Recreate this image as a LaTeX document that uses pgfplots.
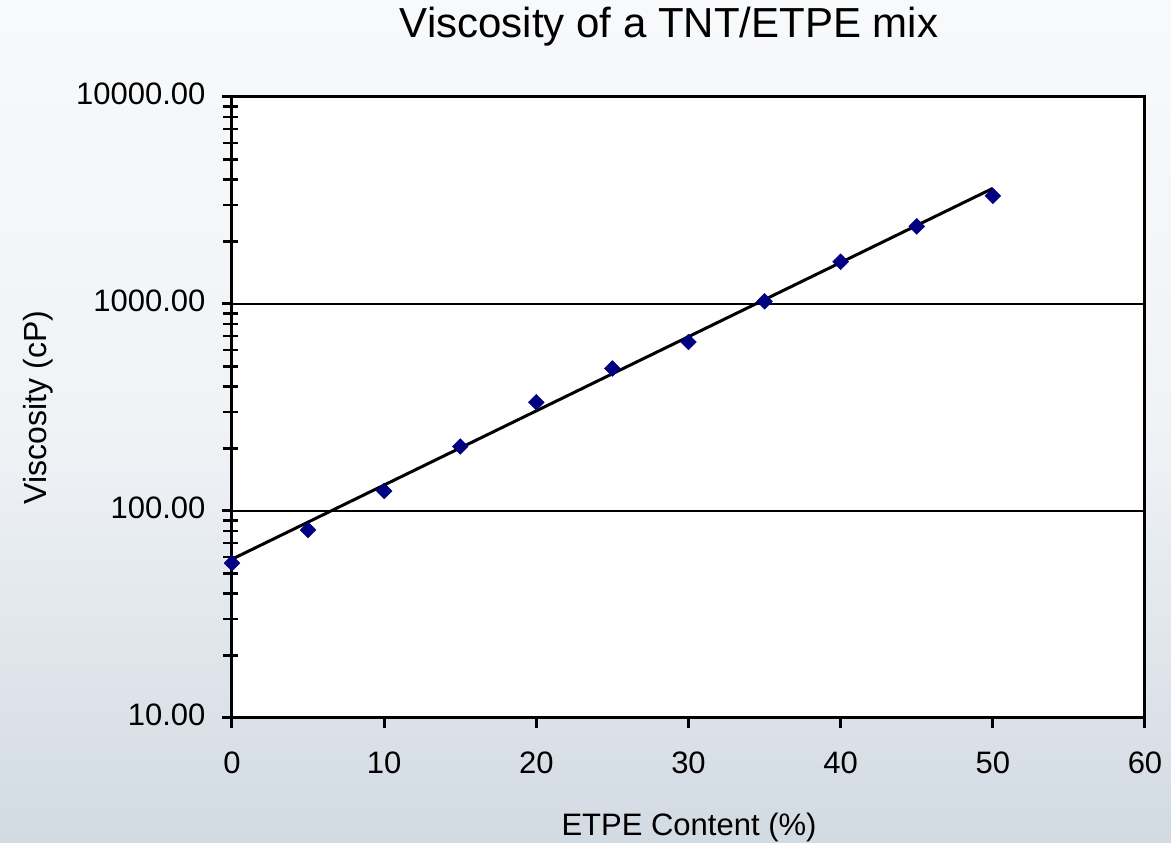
\documentclass[border=0pt]{standalone}
\usepackage{pgfplots}
\pgfplotsset{compat=1.18}
\usepackage{fontspec}
\setmainfont{Liberation Sans}
\definecolor{bgtop}{HTML}{F8F9FB}
\definecolor{bgmid}{HTML}{F0F3F6}
\definecolor{bgbot}{HTML}{D2DAE2}
\definecolor{navy}{HTML}{000080}
\begin{document}
\begin{tikzpicture}[x=1pt,y=1pt]
\useasboundingbox (0,0) rectangle (1171,843);
\shade[top color=bgtop, bottom color=bgbot, middle color=bgmid] (0,0) rectangle (1171,843);
\begin{axis}[
  at={(232pt,125pt)}, anchor=south west,
  scale only axis, width=913pt, height=621pt,
  xmin=0, xmax=60, ymode=log, ymin=10, ymax=10000,
  axis background/.style={fill=white},
  axis line style={line width=3pt},
  xtick={0,10,20,30,40,50,60},
  xticklabels={0,10,20,30,40,50,60},
  ytick={10,100,1000,10000},
  yticklabels={10.00,100.00,1000.00,10000.00},
  tick align=outside,
  tick pos=left,
  major tick length=10pt,
  minor tick length=15pt,
  tick style={black, line width=3pt},
  minor tick style={xshift=6pt, line width=2.5pt},
  ymajorgrids,
  major grid style={black, line width=2.4pt},
  ticklabel style={font=\fontsize{31}{37}\selectfont},
  xticklabel style={yshift=-20pt},
  yticklabel style={xshift=-13pt, yshift=3pt},
  title={Viscosity of a TNT/ETPE mix},
  title style={at={(rel axis cs:0.4786,1.103)}, anchor=center, font=\fontsize{42}{50}\selectfont},
  xlabel={ETPE Content (\%)},
  xlabel style={at={(rel axis cs:0.5006,-0.1765)}, anchor=center, font=\fontsize{31}{37}\selectfont},
  ylabel={Viscosity (cP)},
  ylabel style={at={(rel axis cs:-0.2125,0.5)}, anchor=center, rotate=0, font=\fontsize{32}{38}\selectfont},
  clip=false,
]
\addplot[black, line width=3pt] coordinates {(0,58.5) (50,3620)};
\addplot[only marks, mark=square*, mark size=5.6pt, mark options={rotate=45, fill=navy, draw=navy}]
  coordinates {
  (0,56) (5,81) (10,125) (15,205) (20,335) (25,488) (30,655)
  (35,1030) (40,1600) (45,2370) (50,3330)
  };
\end{axis}
\end{tikzpicture}
\end{document}
